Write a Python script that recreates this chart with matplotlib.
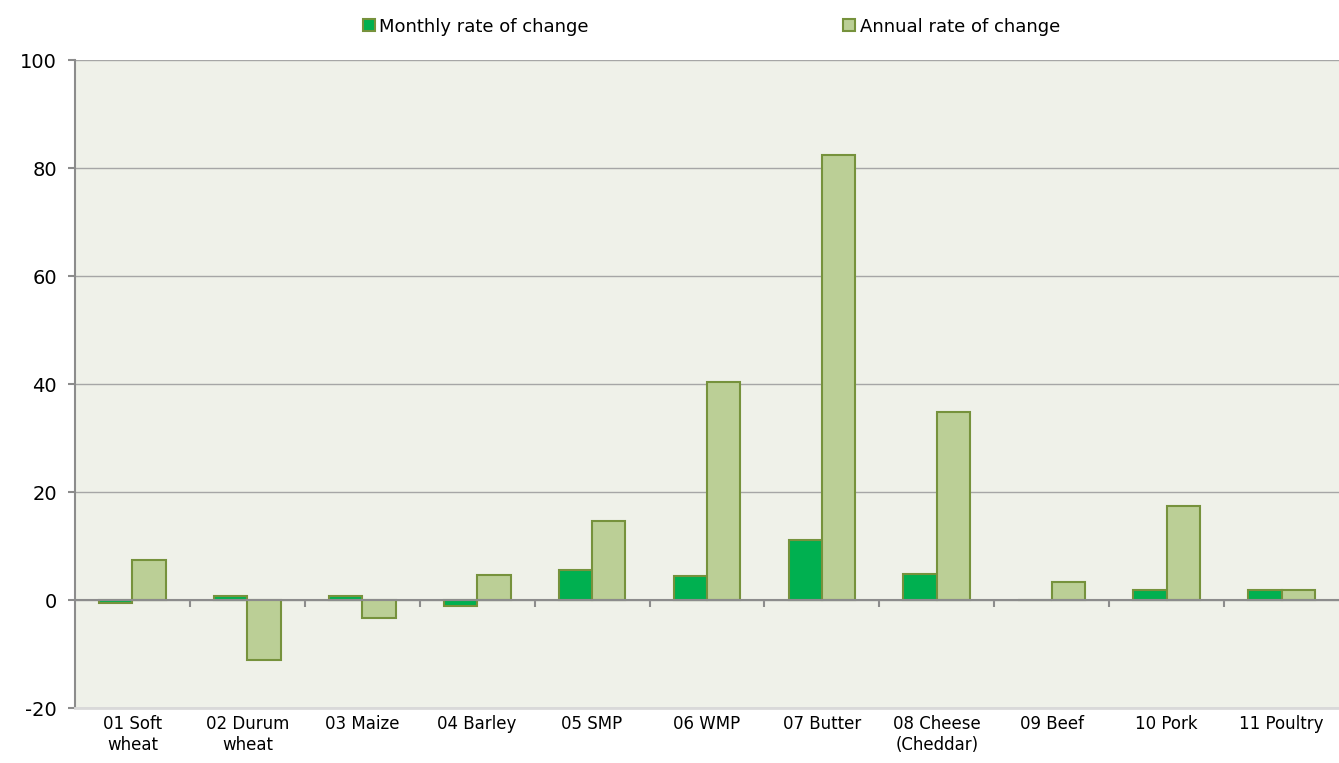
import matplotlib
matplotlib.use("Agg")
import matplotlib.pyplot as plt
import numpy as np

plt.rcParams["axes.unicode_minus"] = False

categories = ["01 Soft\nwheat", "02 Durum\nwheat", "03 Maize", "04 Barley", "05 SMP", "06 WMP",
              "07 Butter", "08 Cheese\n(Cheddar)", "09 Beef", "10 Pork", "11 Poultry"]
monthly = [-0.5, 0.8, 0.8, -1.2, 5.6, 4.4, 11.1, 4.8, 0.0, 1.9, 1.9]
annual = [7.4, -11.1, -3.3, 4.6, 14.6, 40.4, 82.4, 34.8, 3.3, 17.4, 1.9]
series_names = ["Monthly rate of change", "Annual rate of change"]

fig = plt.figure(figsize=(13.39, 7.63), dpi=100)
ax = fig.add_axes([75/1339, 55/763, 1 - 75/1339, (708-60)/763])
ax.set_facecolor("#EFF1E9")

x = np.arange(len(categories))
w = 0.29
edge = "#76923C"
b1 = ax.bar(x - w/2, monthly, w, color="#00B050", edgecolor=edge, linewidth=1.5, zorder=3, label=series_names[0])
b2 = ax.bar(x + w/2, annual, w, color="#BBCF96", edgecolor=edge, linewidth=1.5, zorder=3, label=series_names[1])

ax.set_xlim(-0.5, len(categories) - 0.5)
ax.set_ylim(-20, 100)
ax.set_yticks(np.arange(-20, 101, 20))
ax.yaxis.grid(True, color="#A6A6A6", linewidth=1, zorder=1)
ax.set_axisbelow(True)
ax.axhline(0, color="#8C8C8C", linewidth=1.5, zorder=4)

for s in ["top", "right"]:
    ax.spines[s].set_visible(False)
ax.spines["left"].set_color("#8C8C8C")
ax.spines["left"].set_linewidth(1.5)
ax.spines["bottom"].set_color("#D9D9D9")
ax.spines["bottom"].set_linewidth(2)

ax.tick_params(axis="y", labelsize=14, length=5, color="#8C8C8C", width=1.5, pad=8)
ax.set_xticks(x)
ax.set_xticklabels(categories, fontsize=12, linespacing=1.2)
ax.tick_params(axis="x", length=0, pad=5)

# category boundary ticks on the zero line
sec = ax.secondary_xaxis((0 - (-20)) / 120)
sec.set_xticks(np.arange(0.5, len(categories) - 0.5, 1))
sec.set_xticklabels([])
sec.tick_params(axis="x", direction="out", length=5, color="#8C8C8C", width=1.5)
sec.spines["bottom"].set_visible(False)

fig.legend(handles=[b1, b2], labels=series_names, loc="center", ncol=2,
           bbox_to_anchor=(0.5314, 0.965), frameon=False, fontsize=13, handlelength=0.65,
           handleheight=0.65, handletextpad=0.25, columnspacing=14.1, borderpad=0)

fig.savefig("out.png", dpi=100)
